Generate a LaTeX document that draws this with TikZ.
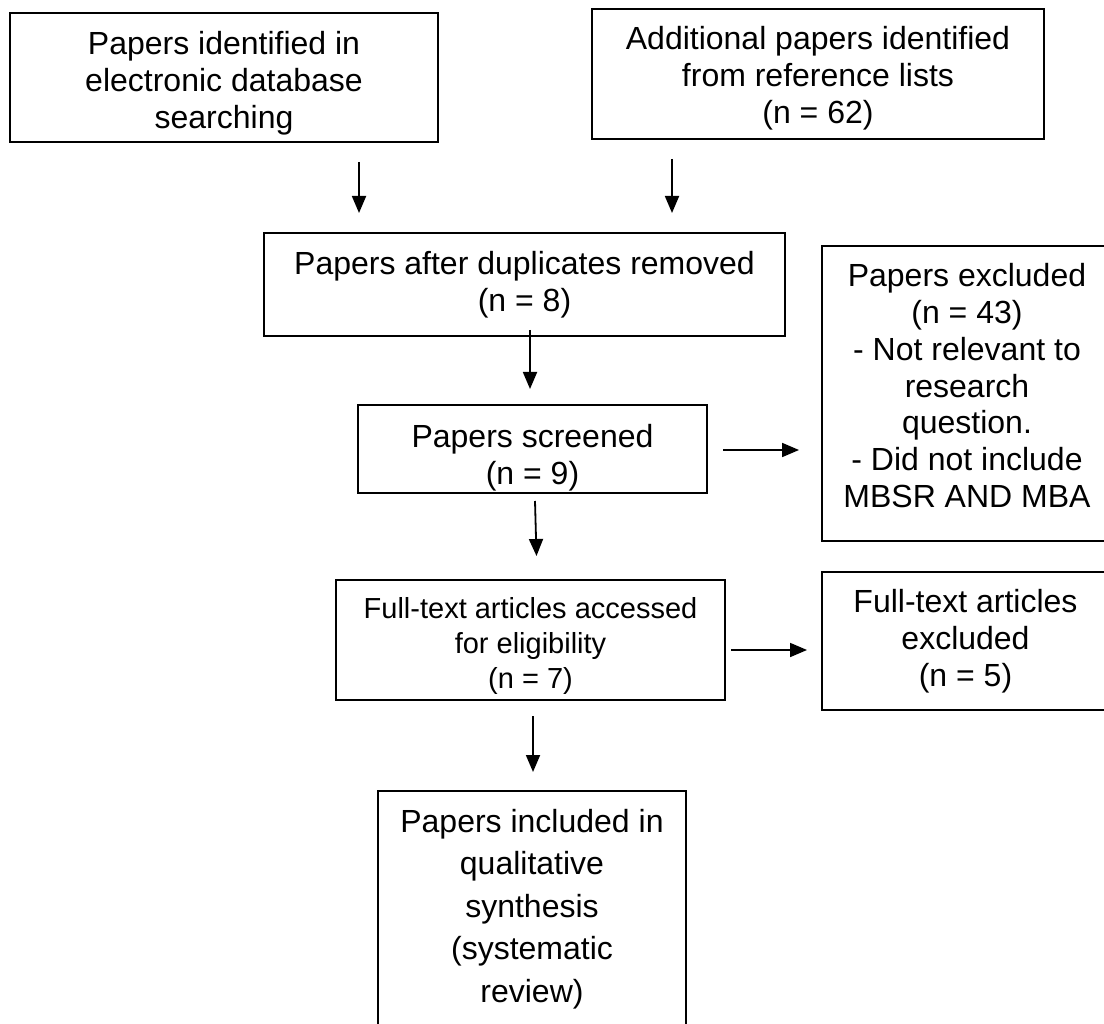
\documentclass[tikz,border=0pt]{standalone}
\usepackage{fontspec}
\setmainfont{Liberation Sans}
\usetikzlibrary{arrows.meta}
\tikzset{every picture/.style={/utils/exec={\fontsize{32}{37}\selectfont}}}
% struts to move a text block inside its box
\newcommand{\padtop}[1]{\rule{0pt}{#1pt}}
\newcommand{\padbot}[1]{\rule[-#1pt]{0pt}{0pt}}

\begin{document}
\begin{tikzpicture}[x=1pt, y=1pt, line width=1.8,
  box/.style={draw, rectangle, inner sep=0pt, align=center},
  arr/.style={-{Triangle[length=17pt, width=14pt]}}]
  \useasboundingbox (0,0) rectangle (1104,-1024);

  % identification
  \node [box, minimum width=428, minimum height=129] (dbase) at (224,-77.5)
    {\padtop{35}Papers identified in\\electronic database\\searching};
  \node [box, minimum width=452, minimum height=130] (reflist) at (818,-74)
    {\padtop{31}Additional papers identified\\from reference lists\\(n = 62)};

  % screening
  \node [box, minimum width=521, minimum height=103] (dup) at (524.5,-284.5)
    {Papers after duplicates removed\\(n = 8)};
  \node [box, minimum width=349, minimum height=88] (scr) at (532.5,-449)
    {\padtop{41}Papers screened\\(n = 9)};
  \node [box, minimum width=290, minimum height=295,
    font={\fontsize{32}{36.7}\selectfont}] (excl) at (967,-393.5)
    {Papers excluded\\(n = 43)\\- Not relevant to\\research\\question.\\- Did not include\\MBSR AND MBA\padbot{16}};

  % eligibility
  \node [box, minimum width=389, minimum height=120,
    font={\fontsize{29}{35}\selectfont}] (elig) at (530.5,-640)
    {\padtop{32}Full-text articles accessed\\for eligibility\\(n = 7)};
  \node [box, minimum width=287, minimum height=138] (ftexcl) at (965.5,-641)
    {Full-text articles\\excluded\\(n = 5)};

  % included
  \node [box, minimum width=308, minimum height=236,
    font={\fontsize{32}{42.5}\selectfont}] (incl) at (532,-909)
    {Papers included in\\qualitative\\synthesis\\(systematic\\review)};

  % arrows
  \coordinate (a1) at (359,-162);  \coordinate (b1) at (359,-213);
  \coordinate (a2) at (672,-159);  \coordinate (b2) at (672,-213);
  \coordinate (a3) at (530,-330);  \coordinate (b3) at (530,-389);
  \coordinate (a4) at (723,-450);  \coordinate (b4) at (799,-450);
  \coordinate (a5) at (535,-501);  \coordinate (b5) at (536.5,-556);
  \coordinate (a6) at (731,-650);  \coordinate (b6) at (807,-650);
  \coordinate (a7) at (533,-716);  \coordinate (b7) at (533,-772);
  \foreach \s/\e in {a1/b1, a2/b2, a3/b3, a4/b4, a5/b5, a6/b6, a7/b7} {
    \draw [arr] (\s) -- (\e);
  }
\end{tikzpicture}
\end{document}
